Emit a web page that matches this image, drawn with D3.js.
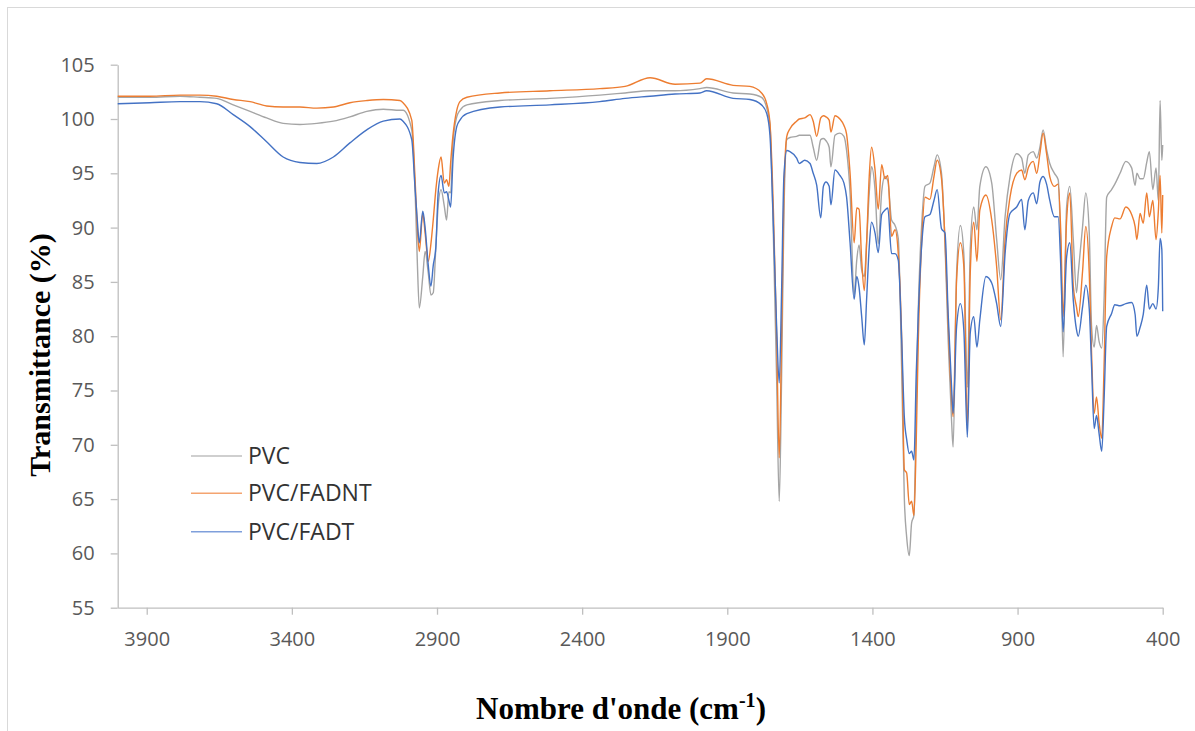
<!DOCTYPE html>
<html>
<head>
<meta charset="utf-8">
<script src="https://cdn.jsdelivr.net/npm/d3@7"></script>
<style>
  body { margin: 0; background: #fff; }
  svg { display: block; }
</style>
</head>
<body>
<div id="wrapper"></div>
<script>
/* wavenumbers (cm-1), shared by the three spectra */
const wavenumbers = [
  4000, 3889, 3785, 3717, 3659, 3602, 3544, 3487, 3430, 3372,
  3314, 3257, 3200, 3142, 3085, 3028, 3017, 2987, 2976, 2968,
  2961, 2949, 2941, 2930, 2921, 2913, 2904, 2896, 2886, 2875,
  2867, 2859, 2853, 2845, 2832, 2821, 2797, 2683, 2511, 2339,
  2252, 2166, 2080, 1994, 1971, 1880, 1822, 1782, 1764, 1753,
  1741, 1730, 1721, 1713, 1705, 1695, 1684, 1661, 1652, 1633,
  1615, 1604, 1592, 1578, 1569, 1560, 1549, 1543, 1529, 1512,
  1498, 1489, 1477, 1463, 1454, 1446, 1437, 1428, 1420, 1411,
  1403, 1391, 1380, 1368, 1357, 1347, 1334, 1322, 1311, 1299,
  1290, 1282, 1273, 1265, 1257, 1249, 1242, 1230, 1219, 1202,
  1188, 1177, 1162, 1150, 1139, 1127, 1122, 1110, 1097, 1085,
  1073, 1063, 1051, 1040, 1030, 1009, 989, 972, 958, 943,
  926, 903, 886, 875, 863, 846, 834, 823, 812, 800,
  789, 773, 760, 751, 743, 731, 720, 708, 697, 691,
  676, 665, 653, 645, 636, 628, 619, 610, 602, 593,
  576, 565, 547, 527, 507, 495, 489, 478, 467, 455,
  446, 434, 423, 415, 409, 403, 400
];

/* transmittance (%) */
const pvc = [
  102.0, 102.0, 102.1, 102.0, 101.9, 101.3, 100.7, 100.1, 99.6, 99.5,
  99.6, 99.8, 100.2, 100.7, 100.9, 100.8, 100.8, 99.0, 93.8, 87.0,
  82.6, 85.5, 87.8, 85.8, 83.8, 84.0, 88.2, 92.0, 93.5, 92.0,
  90.7, 93.3, 93.2, 97.8, 100.2, 100.8, 101.3, 101.7, 101.9, 102.2,
  102.4, 102.6, 102.6, 102.8, 102.9, 102.4, 102.3, 102.0, 101.0, 99.5,
  89.0, 76.0, 64.8, 76.0, 91.0, 98.1, 98.3, 98.4, 98.5, 98.5,
  98.5, 97.4, 96.2, 98.1, 98.2, 98.0, 97.4, 95.6, 98.5, 98.7,
  98.4, 97.1, 93.2, 83.8, 87.0, 88.4, 86.1, 85.5, 88.6, 93.2,
  95.6, 93.5, 88.5, 93.3, 94.7, 94.3, 90.7, 90.2, 89.0, 76.6,
  65.0, 61.5, 59.8, 62.8, 63.5, 73.5, 82.5, 90.4, 93.8, 94.1,
  95.6, 96.7, 95.0, 88.5, 79.6, 72.0, 69.8, 85.8, 90.2, 87.5,
  75.3, 88.0, 91.9, 89.8, 93.8, 95.6, 94.1, 88.9, 85.2, 91.0,
  94.7, 96.8, 96.4, 95.0, 96.7, 97.0, 96.4, 97.4, 99.0, 97.2,
  95.9, 95.0, 94.4, 87.9, 78.1, 91.9, 93.8, 88.9, 84.0, 85.8,
  90.1, 93.2, 89.5, 80.9, 79.0, 81.0, 79.5, 78.9, 83.3, 92.8,
  93.5, 94.0, 95.0, 96.1, 95.5, 93.9, 95.0, 94.5, 94.5, 96.0,
  97.0, 93.5, 95.5, 92.5, 101.7, 96.2, 97.6
];

const pvcFadnt = [
  102.1, 102.1, 102.2, 102.2, 102.1, 101.8, 101.6, 101.2, 101.1, 101.1,
  101.0, 101.1, 101.5, 101.7, 101.8, 101.7, 101.5, 99.9, 94.7, 90.1,
  87.8, 91.3, 89.5, 86.9, 88.5, 90.7, 93.5, 95.3, 96.5, 94.1,
  94.4, 93.8, 96.0, 98.5, 100.8, 101.6, 102.0, 102.4, 102.6, 102.8,
  103.0, 103.8, 103.2, 103.3, 103.7, 103.1, 103.0, 102.4, 101.4, 99.6,
  91.5, 80.0, 68.8, 80.0, 93.0, 98.4, 99.1, 99.8, 100.0, 100.1,
  100.4, 99.8, 98.4, 100.1, 100.3, 100.2, 99.9, 98.8, 100.3, 100.0,
  99.4, 98.6, 95.0, 88.6, 91.8, 91.7, 87.0, 84.2, 88.6, 94.7,
  97.4, 95.3, 91.7, 95.8, 94.5, 94.8, 89.2, 89.8, 87.6, 79.6,
  67.7, 67.4, 64.5, 64.8, 63.5, 70.4, 79.6, 88.9, 92.8, 92.6,
  94.7, 96.2, 94.5, 88.9, 81.2, 74.1, 72.6, 85.2, 88.6, 86.4,
  71.5, 85.8, 90.5, 86.9, 91.6, 93.0, 90.7, 86.4, 81.5, 88.9,
  92.8, 95.0, 95.3, 94.4, 95.5, 96.1, 95.0, 96.8, 98.7, 96.8,
  94.7, 93.8, 94.0, 89.5, 81.8, 90.7, 93.2, 84.6, 82.7, 81.8,
  86.0, 90.1, 85.8, 78.4, 72.9, 74.4, 72.0, 70.6, 77.2, 87.3,
  90.1, 90.9, 90.8, 91.9, 91.2, 90.1, 88.9, 91.3, 90.4, 93.2,
  91.0, 92.5, 88.9, 91.5, 94.8, 89.5, 93.0
];

const pvcFadt = [
  101.4, 101.5, 101.6, 101.6, 101.4, 100.4, 99.3, 97.9, 96.5, 96.0,
  95.9, 96.5, 97.8, 99.0, 99.8, 100.0, 99.8, 98.1, 93.8, 90.7,
  88.6, 91.5, 90.0, 86.5, 84.6, 86.5, 88.2, 93.2, 94.8, 93.2,
  93.3, 92.5, 91.9, 96.2, 99.3, 99.9, 100.5, 101.1, 101.3, 101.6,
  101.9, 102.1, 102.3, 102.4, 102.6, 101.9, 101.8, 101.3, 100.5, 98.5,
  90.1, 80.9, 75.7, 84.0, 94.7, 97.1, 97.0, 96.4, 95.9, 96.2,
  95.9, 95.0, 93.9, 90.9, 93.8, 94.2, 93.8, 92.1, 95.3, 94.8,
  94.1, 92.8, 88.6, 83.4, 85.5, 84.5, 81.8, 79.2, 83.4, 88.2,
  90.5, 89.5, 87.7, 91.2, 91.6, 91.8, 87.6, 87.6, 87.0, 79.6,
  72.5, 70.5, 69.2, 69.4, 68.6, 76.6, 82.0, 88.5, 91.0, 91.2,
  92.5, 93.5, 89.9, 89.5, 82.0, 75.1, 72.9, 80.9, 83.0, 80.5,
  70.7, 80.3, 81.8, 79.0, 81.5, 85.5, 84.9, 83.0, 80.9, 87.6,
  91.3, 91.9, 92.6, 89.8, 92.5, 93.2, 92.2, 94.2, 94.7, 94.0,
  92.5, 91.0, 91.0, 86.4, 80.4, 87.3, 88.6, 83.3, 80.6, 80.0,
  82.7, 84.7, 82.5, 77.2, 71.5, 72.7, 71.0, 69.4, 74.1, 80.9,
  82.1, 82.9, 82.8, 83.0, 83.1, 82.0, 80.0, 80.8, 82.0, 84.7,
  82.5, 83.0, 82.5, 84.5, 89.0, 88.0, 82.3
];

const seriesNames = ["PVC", "PVC/FADNT", "PVC/FADT"];
const seriesColors = ["#a5a5a5", "#ed7d31", "#4472c4"];
const legendColors = ["#bfbfbf", "#f4a470", "#7f9fdb"];
const xTicks = [3900, 3400, 2900, 2400, 1900, 1400, 900, 400];
const yTicks = [55, 60, 65, 70, 75, 80, 85, 90, 95, 100, 105];

const width = 1195, height = 731;
const plot = {left: 117.7, right: 1162.7, top: 64.7, bottom: 607.7};

const svg = d3.select("#wrapper")
  .append("svg")
    .attr("width", width)
    .attr("height", height);

svg.append("rect")
  .attr("x", 7.5).attr("y", 7.5)
  .attr("width", width).attr("height", height)
  .attr("fill", "#fff")
  .attr("stroke", "#d9d9d9");

const x = d3.scaleLinear().domain([4000, 400]).range([plot.left, plot.right]);
const y = d3.scaleLinear().domain([55, 105]).range([plot.bottom, plot.top]);

/* axes */
const xAxis = svg.append("g")
  .attr("transform", "translate(0," + plot.bottom + ")")
  .call(d3.axisBottom(x).tickValues(xTicks).tickFormat(d3.format("d"))
    .tickSize(7).tickSizeOuter(0).tickPadding(17));

const yAxis = svg.append("g")
  .attr("transform", "translate(" + plot.left + ",0)")
  .call(d3.axisLeft(y).tickValues(yTicks).tickFormat(d3.format("d"))
    .tickSize(7).tickSizeOuter(0).tickPadding(16));

[xAxis, yAxis].forEach(function(g) {
  g.select(".domain").attr("stroke", "#bfbfbf").attr("stroke-width", 1.3);
  g.selectAll(".tick line").attr("stroke", "#bfbfbf").attr("stroke-width", 1.3);
  g.selectAll(".tick text")
    .attr("fill", "#595959")
    .style("font-family", "'Open Sans', 'Noto Sans', sans-serif")
    .style("font-size", "20px");
});

/* spectra */
const series = [pvc, pvcFadnt, pvcFadt];
const line = d3.line()
  .x(function(d) { return x(d[0]); })
  .y(function(d) { return y(d[1]); })
  .curve(d3.curveMonotoneX);

series.forEach(function(values, i) {
  const pts = wavenumbers.map(function(w, j) { return [w, values[j]]; });
  svg.append("path")
    .datum(pts)
    .attr("fill", "none")
    .attr("stroke", seriesColors[i])
    .attr("stroke-width", 1.4)
    .attr("stroke-linejoin", "round")
    .attr("d", line);
});

/* legend */
const legendY = [456, 493.3, 531.7];
seriesNames.forEach(function(name, i) {
  svg.append("line")
    .attr("x1", 191).attr("x2", 242)
    .attr("y1", legendY[i]).attr("y2", legendY[i])
    .attr("stroke", legendColors[i])
    .attr("stroke-width", 1.5);
  svg.append("text")
    .attr("x", 248)
    .attr("y", legendY[i] + 8)
    .attr("fill", "#333")
    .style("font-family", "'Open Sans', 'Noto Sans', sans-serif")
    .style("font-size", "23px")
    .text(name);
});

/* axis titles */
svg.append("text")
  .attr("transform", "translate(50,355) rotate(-90)")
  .attr("text-anchor", "middle")
  .style("font-family", "'Liberation Serif', 'Times New Roman', serif")
  .style("font-weight", "bold")
  .style("font-size", "30px")
  .attr("fill", "#000")
  .text("Transmittance (%)");

const xTitle = svg.append("text")
  .attr("x", 621)
  .attr("y", 719)
  .attr("text-anchor", "middle")
  .style("font-family", "'Liberation Serif', 'Times New Roman', serif")
  .style("font-weight", "bold")
  .style("font-size", "31px")
  .attr("fill", "#000");
xTitle.append("tspan").text("Nombre d'onde (cm");
xTitle.append("tspan").attr("dy", -12).style("font-size", "20px").text("-1");
xTitle.append("tspan").attr("dy", 12).text(")");
</script>
</body>
</html>
